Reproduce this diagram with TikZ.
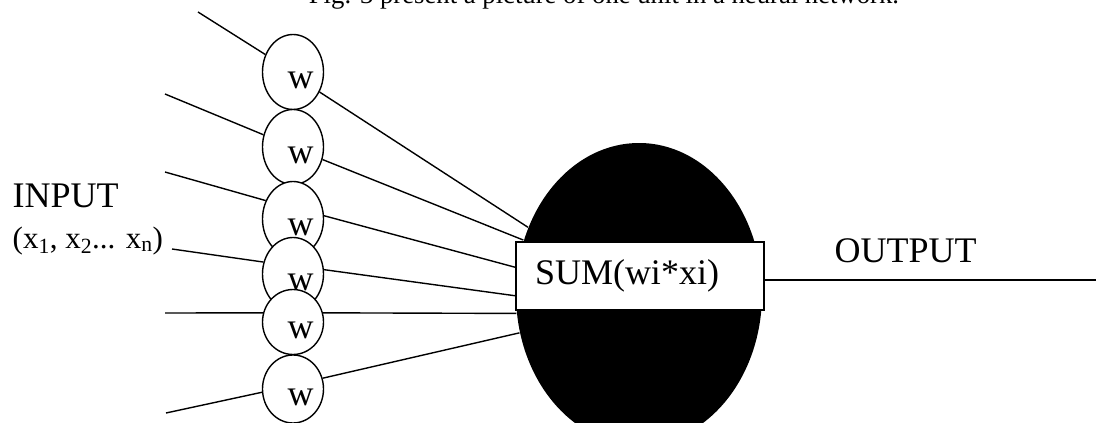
\documentclass[tikz,border=0pt]{standalone}
\usepackage{fontspec}
\setmainfont{Liberation Serif}
\usetikzlibrary{shapes.geometric}
\tikzset{
  lbl/.style={font=\fontsize{36}{40}\selectfont,inner sep=0pt},
  wt/.style={ellipse,draw,fill=white,minimum width=61,inner sep=0pt,
    font=\fontsize{36}{40}\selectfont,text height=32pt,text depth=0pt,
    execute at begin node=\hspace*{15pt}},
  unit/.style={ellipse,fill=black,minimum width=246,minimum height=302,inner sep=0pt},
  sumbox/.style={rectangle,draw,fill=white,line width=1.6pt,minimum height=68,
    text width=210,inner xsep=19,align=left,font=\fontsize{36}{40}\selectfont},
  wire/.style={line width=1.4pt},
}

\begin{document}
\begin{tikzpicture}[x=1pt,y=-1pt,line width=1.4pt]
\clip (0,0) rectangle (1096,423);
\node[anchor=base,inner sep=0pt,font=\fontsize{26.7}{30}\selectfont] (title) at (604,4)
  {Fig. 3 present a picture of one unit in a neural network.};
\node[lbl,anchor=base west] (inp) at (12,207) {INPUT};
\node[anchor=base west,inner sep=0pt,font=\fontsize{31}{35}\selectfont] (xs) at (12,248)
  {(x\textsubscript{1}, x\textsubscript{2}... x\textsubscript{n})};

% the unit
\node[unit] (unit) at (639,294) {};
\node[sumbox] (sum) at (640,276) {SUM(wi*xi)};
\node[lbl,anchor=base west] (out) at (834,262) {OUTPUT};
\coordinate (yend) at (1096,280);
\draw[wire] (sum.east |- yend) -- (yend);

% weights
\node[wt,minimum height=75] (w1) at (293,72) {w};
\node[wt,minimum height=75] (w2) at (293,147) {w};
\node[wt,minimum height=75] (w3) at (293,219) {w};
\node[wt,minimum height=73] (w4) at (293,274) {w};
\node[wt,minimum height=65] (w5) at (293,322) {w};
\node[wt,minimum height=68] (w6) at (293,389) {w};

% inputs
\coordinate (x1) at (198,12);
\coordinate (x2) at (165,94);
\coordinate (x3) at (165,172);
\coordinate (x4) at (172,249);
\coordinate (x5) at (165,313);
\coordinate (x6) at (166,413);
\draw[wire] (x1) -- (w1);
\draw[wire] (x2) -- (w2);
\draw[wire] (x3) -- (w3.146);
\draw[wire] (x4) -- (w4.158);
\draw[wire] (x5) -- (w5.163);
\draw[wire] (x6) -- (w6.186);

% weighted inputs into the sum
\draw[wire] (w1.323) -- (unit.149);
\draw[wire] (w2.337) -- (unit.155);
\draw[wire] (w3.6) -- (sum.176);
\draw[wire] (w4.8) -- (sum.189);
\draw[wire] (w5.17) -- (unit.189);
\draw[wire] (w6.20) -- (unit.198);
\end{tikzpicture}
\end{document}
